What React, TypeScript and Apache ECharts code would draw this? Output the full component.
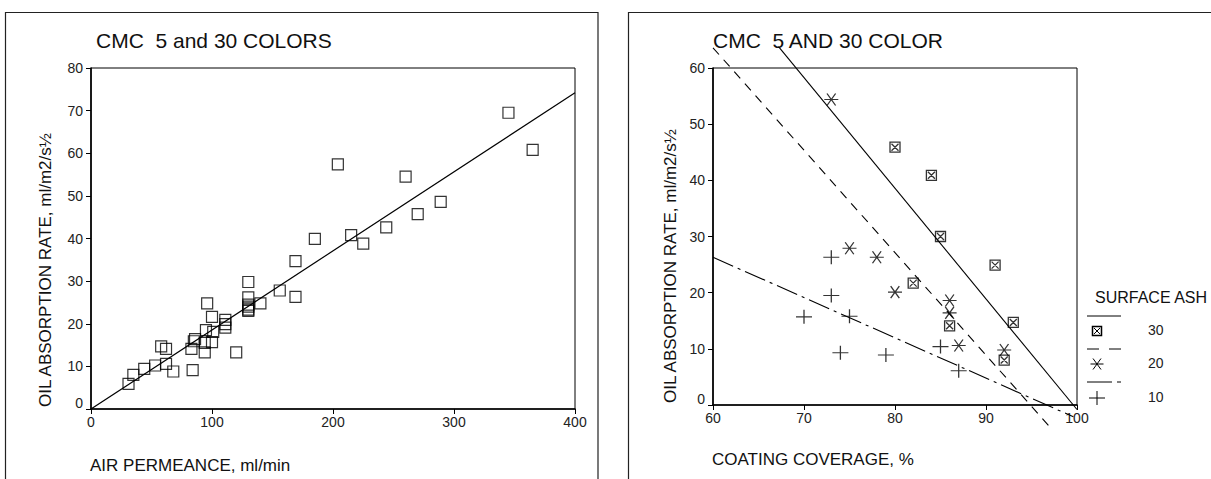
import React, { useEffect, useRef } from "react";
import * as echarts from "echarts";

// ---- Left chart: air permeance vs oil absorption rate ----
const permeance = [31, 35, 44, 53, 58, 62, 62, 68, 83, 84, 85, 86, 94, 94, 95, 96, 100, 101, 100, 111, 111, 111, 120, 130, 130, 130, 130, 130, 130, 140, 156, 169, 169, 185, 204, 215, 225, 244, 260, 270, 289, 345, 365];
const absorptionLeft = [5.9, 8.0, 9.4, 10.2, 14.7, 14.1, 10.6, 8.8, 14.1, 9.1, 15.9, 16.4, 15.5, 13.3, 18.5, 24.8, 21.6, 18.1, 15.7, 20.9, 19.9, 19.1, 13.3, 29.8, 26.2, 24.5, 24.0, 23.3, 23.0, 24.8, 27.8, 34.7, 26.3, 39.9, 57.4, 40.8, 38.8, 42.6, 54.5, 45.7, 48.6, 69.5, 60.8];
const fitLeftX = [0, 400];
const fitLeftY = [0, 74.2];
const leftXTicks = [0, 100, 200, 300, 400];
const leftYTicks = [0, 10, 20, 30, 40, 50, 60, 70, 80];

// ---- Right chart: coating coverage vs oil absorption rate ----
const cov30 = [80, 84, 85, 91, 82, 93, 86, 92];
const rate30 = [45.9, 40.9, 30.0, 24.9, 21.7, 14.7, 14.1, 8.0];
const cov20 = [73, 75, 78, 80, 86, 86, 87, 92];
const rate20 = [54.4, 27.9, 26.3, 20.1, 18.6, 16.4, 10.6, 9.8];
const cov10 = [73, 73, 70, 75, 74, 79, 85, 87];
const rate10 = [26.3, 19.5, 15.7, 15.8, 9.3, 8.9, 10.4, 6.1];
const fit30X = [67.2, 100];
const fit30Y = [63.8, -0.8];
const fit20X = [60, 96.9];
const fit20Y = [63.6, -3.7];
const fit10X = [60, 99.6];
const fit10Y = [26.3, -2.1];
const rightXTicks = [60, 70, 80, 90, 100];
const rightYTicks = [0, 10, 20, 30, 40, 50, 60];

const legendTitle = "SURFACE ASH";
const legendLabels = ["30", "20", "10"];

const FONT = "'Liberation Sans', Arial, Helvetica, sans-serif";
const zip = (xs: number[], ys: number[]) => xs.map((x, i) => [x, ys[i]]);

const SYM_BOXX = "path://M0 0H10V10H0Z M1.5 1.5L8.5 8.5 M8.5 1.5L1.5 8.5";
const SYM_AST = "path://M0 5.5H13 M2.5 0L10.5 11 M10.5 0L2.5 11";
const SYM_PLUS = "path://M0 7H16 M8 0V14";

function axisX(gridIndex: number, min: number, max: number, interval: number) {
  return {
    type: "value",
    gridIndex,
    min,
    max,
    interval,
    splitLine: { show: false },
    axisLine: { show: true, onZero: false, lineStyle: { color: "#000", width: 1.6 } },
    axisTick: { show: true, length: 5, lineStyle: { color: "#000", width: 1 } },
    axisLabel: { color: "#222", fontSize: 14, fontFamily: FONT, margin: 6 },
  };
}
function axisY(gridIndex: number, min: number, max: number, interval: number) {
  return {
    type: "value",
    gridIndex,
    min,
    max,
    interval,
    splitLine: { show: false },
    axisLine: { show: true, onZero: false, lineStyle: { color: "#000", width: 1.6 } },
    axisTick: { show: true, length: 5, lineStyle: { color: "#000", width: 1 } },
    axisLabel: {
      color: "#222",
      fontSize: 14,
      fontFamily: FONT,
      margin: 8,
      formatter: (v: number) => (v === 0 ? "{z|0}" : String(v)),
      rich: { z: { fontSize: 14, fontFamily: FONT, color: "#222", padding: [0, 0, 12, 0] } },
    },
  };
}

export default function App() {
  const ref = useRef<HTMLDivElement>(null);
  useEffect(() => {
    document.body.style.margin = "0";
    if (!ref.current) return;
    const chart = echarts.init(ref.current, undefined, { renderer: "svg" });
    const black = "#000";
    const lx = 1087;
    const legendGraphics: any[] = [
      { type: "text", left: 1095, top: 289, style: { text: legendTitle, font: `16px ${FONT}`, fill: "#111" } },
      { type: "line", shape: { x1: lx, y1: 316, x2: lx + 34, y2: 316 }, style: { stroke: black, lineWidth: 1 } },
      { type: "rect", shape: { x: 1092.5, y: 326.5, width: 9, height: 9 }, style: { stroke: black, fill: "none", lineWidth: 1.5 } },
      { type: "line", shape: { x1: 1094, y1: 328, x2: 1100, y2: 334 }, style: { stroke: black, lineWidth: 1 } },
      { type: "line", shape: { x1: 1100, y1: 328, x2: 1094, y2: 334 }, style: { stroke: black, lineWidth: 1 } },
      { type: "text", left: 1148, top: 323, style: { text: legendLabels[0], font: `14px ${FONT}`, fill: "#222" } },
      { type: "line", shape: { x1: lx, y1: 349, x2: lx + 34, y2: 349 }, style: { stroke: black, lineWidth: 1, lineDash: [12, 10] } },
      { type: "line", shape: { x1: 1090.5, y1: 364, x2: 1103.5, y2: 364 }, style: { stroke: black, lineWidth: 1 } },
      { type: "line", shape: { x1: 1093, y1: 358.5, x2: 1101, y2: 369.5 }, style: { stroke: black, lineWidth: 1 } },
      { type: "line", shape: { x1: 1101, y1: 358.5, x2: 1093, y2: 369.5 }, style: { stroke: black, lineWidth: 1 } },
      { type: "text", left: 1148, top: 356, style: { text: legendLabels[1], font: `14px ${FONT}`, fill: "#222" } },
      { type: "line", shape: { x1: lx, y1: 382, x2: lx + 25, y2: 382 }, style: { stroke: black, lineWidth: 1 } },
      { type: "line", shape: { x1: lx + 30, y1: 382, x2: lx + 34, y2: 382 }, style: { stroke: black, lineWidth: 1 } },
      { type: "line", shape: { x1: 1089, y1: 398, x2: 1105, y2: 398 }, style: { stroke: black, lineWidth: 1 } },
      { type: "line", shape: { x1: 1097, y1: 391, x2: 1097, y2: 405 }, style: { stroke: black, lineWidth: 1 } },
      { type: "text", left: 1148, top: 390, style: { text: legendLabels[2], font: `14px ${FONT}`, fill: "#222" } },
    ];
    chart.setOption({
      animation: false,
      backgroundColor: "#fff",
      grid: [
        { left: 91, top: 68, width: 484, height: 341, show: true, borderColor: "#000", borderWidth: 1, containLabel: false },
        { left: 713, top: 68, width: 364, height: 337, show: true, borderColor: "#000", borderWidth: 1, containLabel: false },
      ],
      xAxis: [
        axisX(0, leftXTicks[0], leftXTicks[leftXTicks.length - 1], 100),
        axisX(1, rightXTicks[0], rightXTicks[rightXTicks.length - 1], 10),
      ],
      yAxis: [
        axisY(0, leftYTicks[0], leftYTicks[leftYTicks.length - 1], 10),
        axisY(1, rightYTicks[0], rightYTicks[rightYTicks.length - 1], 10),
      ],
      graphic: [
        { type: "rect", shape: { x: 5.5, y: 12.5, width: 592.5, height: 500 }, style: { stroke: "#222", fill: "none", lineWidth: 1.2 }, z: 0 },
        { type: "rect", shape: { x: 628.5, y: 12.5, width: 620, height: 500 }, style: { stroke: "#222", fill: "none", lineWidth: 1.2 }, z: 0 },
        { type: "text", left: 96, top: 30, style: { text: "CMC  5 and 30 COLORS", font: `21px ${FONT}`, fill: "#111" } },
        { type: "text", left: 713, top: 30, style: { text: "CMC  5 AND 30 COLOR", font: `21px ${FONT}`, fill: "#111" } },
        { type: "text", left: 90, top: 457, style: { text: "AIR PERMEANCE, ml/min", font: `17px ${FONT}`, fill: "#111" } },
        { type: "text", left: 712, top: 451, style: { text: "COATING COVERAGE, %", font: `17px ${FONT}`, fill: "#111" } },
        {
          type: "text", x: 45, y: 270, rotation: Math.PI / 2,
          style: { text: "OIL ABSORPTION RATE, ml/m2/s½", font: `17px ${FONT}`, fill: "#111", align: "center", verticalAlign: "middle" },
        },
        {
          type: "text", x: 670, y: 266, rotation: Math.PI / 2,
          style: { text: "OIL ABSORPTION RATE, ml/m2/s½", font: `17px ${FONT}`, fill: "#111", align: "center", verticalAlign: "middle" },
        },
        ...legendGraphics,
      ],
      series: [
        {
          type: "scatter", xAxisIndex: 0, yAxisIndex: 0, data: zip(permeance, absorptionLeft),
          symbol: "rect", symbolSize: 11,
          itemStyle: { color: "rgba(0,0,0,0)", borderColor: "#000", borderWidth: 1.2 },
        },
        {
          type: "line", xAxisIndex: 0, yAxisIndex: 0, data: zip(fitLeftX, fitLeftY), symbol: "none",
          lineStyle: { color: "#000", width: 1.2 },
        },
        {
          type: "scatter", xAxisIndex: 1, yAxisIndex: 1, data: zip(cov30, rate30),
          symbol: SYM_BOXX, symbolSize: 10,
          itemStyle: { color: "rgba(0,0,0,0)", borderColor: "#000", borderWidth: 1.3 },
        },
        {
          type: "scatter", xAxisIndex: 1, yAxisIndex: 1, data: zip(cov20, rate20),
          symbol: SYM_AST, symbolSize: [14, 12],
          itemStyle: { color: "rgba(0,0,0,0)", borderColor: "#000", borderWidth: 1.2 },
        },
        {
          type: "scatter", xAxisIndex: 1, yAxisIndex: 1, data: zip(cov10, rate10),
          symbol: SYM_PLUS, symbolSize: [16, 14],
          itemStyle: { color: "rgba(0,0,0,0)", borderColor: "#000", borderWidth: 1.2 },
        },
        {
          type: "line", xAxisIndex: 1, yAxisIndex: 1, data: zip(fit30X, fit30Y), symbol: "none", clip: false,
          lineStyle: { color: "#000", width: 1.1 },
        },
        {
          type: "line", xAxisIndex: 1, yAxisIndex: 1, data: zip(fit20X, fit20Y), symbol: "none", clip: false,
          lineStyle: { color: "#000", width: 1.1, type: [9, 7] },
        },
        {
          type: "line", xAxisIndex: 1, yAxisIndex: 1, data: zip(fit10X, fit10Y), symbol: "none", clip: false,
          lineStyle: { color: "#000", width: 1.1, type: [22, 5, 3, 5] },
        },
      ],
    });
    return () => chart.dispose();
  }, []);
  return <div ref={ref} style={{ width: 1211, height: 479 }} />;
}
